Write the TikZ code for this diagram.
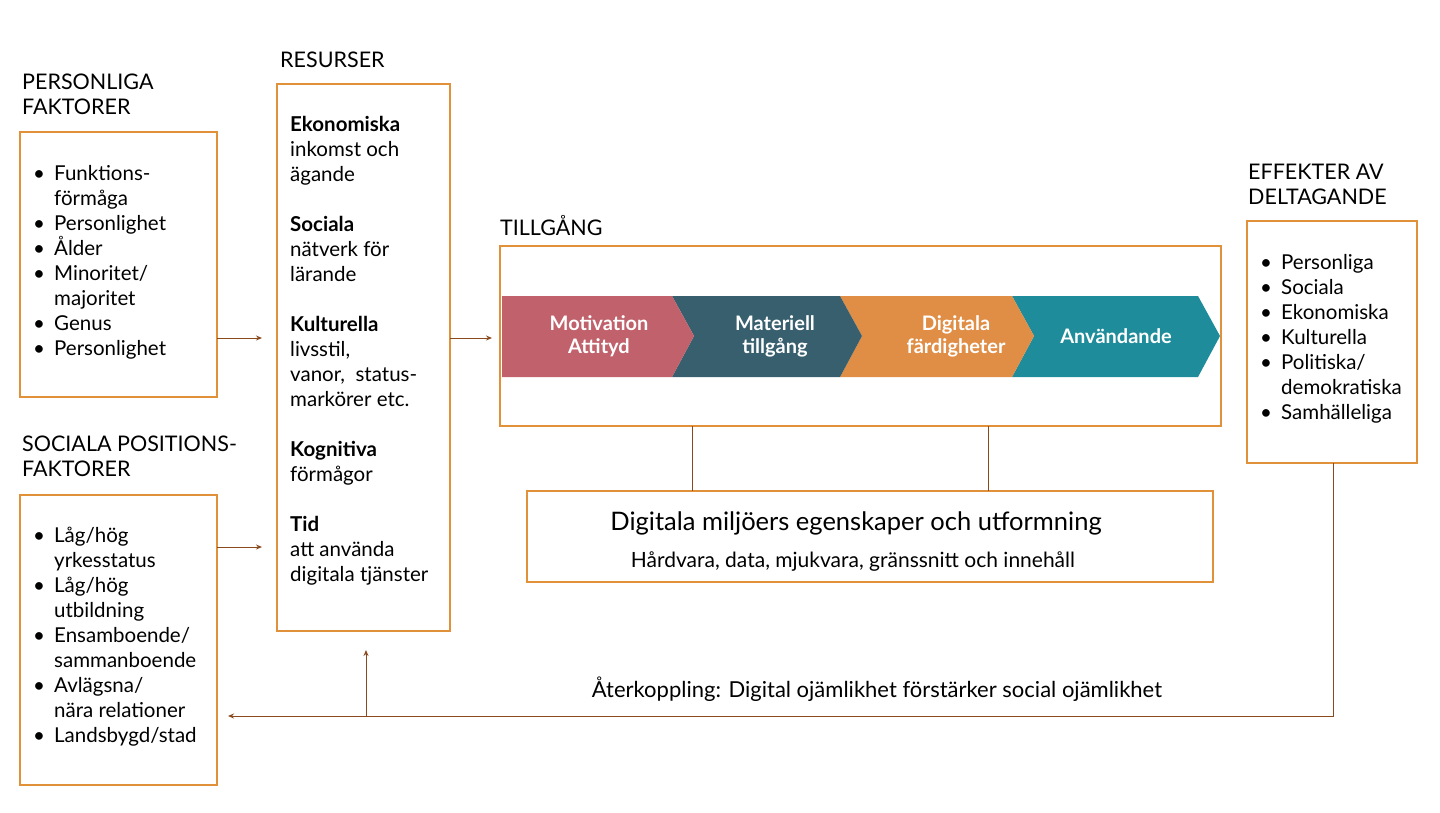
\documentclass[tikz,border=0pt]{standalone}
\usepackage{fontspec}
\setmainfont{Lato}
\usetikzlibrary{arrows.meta}
\definecolor{obox}{HTML}{E0913A}
\definecolor{arr}{HTML}{8B4A1E}
\definecolor{cpink}{HTML}{C0616B}
\definecolor{cdark}{HTML}{375F6E}
\definecolor{corange}{HTML}{E08D45}
\definecolor{cteal}{HTML}{1E8C9A}
\newcommand{\bl}{\makebox[21pt][l]{\textbullet}}
\newcommand{\ind}{\hspace*{21pt}}
\begin{document}
\begin{tikzpicture}[x=1pt,y=-1pt,
  box/.style={draw=obox,line width=1.5pt},
  conn/.style={draw=arr,line width=1pt,-{Stealth[length=6pt,width=5pt]}},
  line/.style={draw=arr,line width=1pt},
  title/.style={anchor=north west,align=left,font=\fontsize{21.5}{25}\selectfont,inner sep=0pt},
  body/.style={anchor=north west,align=left,font=\fontsize{20.5}{25}\selectfont,inner sep=0pt},
  chev/.style={font=\fontsize{20}{23}\selectfont\bfseries,text=white,align=center}]
\useasboundingbox (0,0) rectangle (1440,813);
% boxes
\draw[box] (20,132) rectangle (217,397);
\draw[box] (20,495) rectangle (217,785);
\draw[box] (277,84) rectangle (450,631);
\draw[box] (500,246) rectangle (1221,426);
\draw[box] (1247,221) rectangle (1417,463);
\draw[box] (527,491) rectangle (1213,582);
% titles
\node[title] (t1) at (22,74) {PERSONLIGA\\FAKTORER};
\node[title] (t2) at (280,52) {RESURSER};
\node[title] (t3) at (500,215) {TILLGÅNG};
\node[title] (t4) at (1248,164) {EFFEKTER AV\\DELTAGANDE};
\node[title] (t5) at (22,436) {SOCIALA POSITIONS-\\FAKTORER};
% lists
\node[body] (l1) at (33,165) {\bl Funktions-\\\ind förmåga\\\bl Personlighet\\\bl Ålder\\\bl Minoritet/\\\ind majoritet\\\bl Genus\\\bl Personlighet};
\node[body] (l2) at (33,527) {\bl Låg/hög\\\ind yrkesstatus\\\bl Låg/hög\\\ind utbildning\\\bl Ensamboende/\\\ind sammanboende\\\bl Avlägsna/\\\ind nära relationer\\\bl Landsbygd/stad};
\node[body] (l3) at (290,116) {\textbf{Ekonomiska}\\inkomst och\\ägande\\[25pt]\textbf{Sociala}\\nätverk för\\lärande\\[25pt]\textbf{Kulturella}\\livsstil,\\vanor,\ \ status-\\markörer etc.\\[25pt]\textbf{Kognitiva}\\förmågor\\[25pt]\textbf{Tid}\\att använda\\digitala tjänster};
\node[body] (l4) at (1260,254) {\bl Personliga\\\bl Sociala\\\bl Ekonomiska\\\bl Kulturella\\\bl Politiska/\\\ind demokratiska\\\bl Samhälleliga};
% chevrons
\fill[cteal] (1012,296) -- (1198,296) -- (1220,336) -- (1198,377) -- (1012,377) -- (1034,336) -- cycle;
\fill[corange] (840,296) -- (1012,296) -- (1034,336) -- (1012,377) -- (840,377) -- (862,336) -- cycle;
\fill[cdark] (672,296) -- (840,296) -- (862,336) -- (840,377) -- (672,377) -- (694,336) -- cycle;
\fill[cpink] (502,296) -- (672,296) -- (694,336) -- (672,377) -- (502,377) -- cycle;
\node[chev] (c1) at (599,336) {Motivation\\Attityd};
\node[chev] (c2) at (775,336) {Materiell\\tillgång};
\node[chev] (c3) at (956,336) {Digitala\\färdigheter};
\node[chev] (c4) at (1116,336) {Användande};
% miljo text
\node[font=\fontsize{25.5}{28}\selectfont] (m1) at (856,523) {Digitala miljöers egenskaper och utformning};
\node[font=\fontsize{21}{24}\selectfont] (m2) at (853,562) {Hårdvara, data, mjukvara, gränssnitt och innehåll};
\node[font=\fontsize{22}{25}\selectfont] (fb) at (877,689) {Återkoppling: Digital ojämlikhet förstärker social ojämlikhet};
% connectors
\coordinate (a1) at (217,338); \coordinate (a1e) at (262,338);
\coordinate (a2) at (217,547); \coordinate (a2e) at (262,547);
\coordinate (a3) at (450,338); \coordinate (a3e) at (492,338);
\draw[conn] (a1) -- (a1e);
\draw[conn] (a2) -- (a2e);
\draw[conn] (a3) -- (a3e);
\coordinate (v1a) at (692,426); \coordinate (v1b) at (692,491);
\coordinate (v2a) at (988,426); \coordinate (v2b) at (988,491);
\draw[line] (v1a) -- (v1b);
\draw[line] (v2a) -- (v2b);
\coordinate (e1) at (1333,463); \coordinate (e2) at (1333,716);
\coordinate (e3) at (228,716); \coordinate (j1) at (366,716); \coordinate (j2) at (366,650);
\draw[conn] (e1) -- (e2) -- (e3);
\draw[conn] (j1) -- (j2);
\end{tikzpicture}
\end{document}
